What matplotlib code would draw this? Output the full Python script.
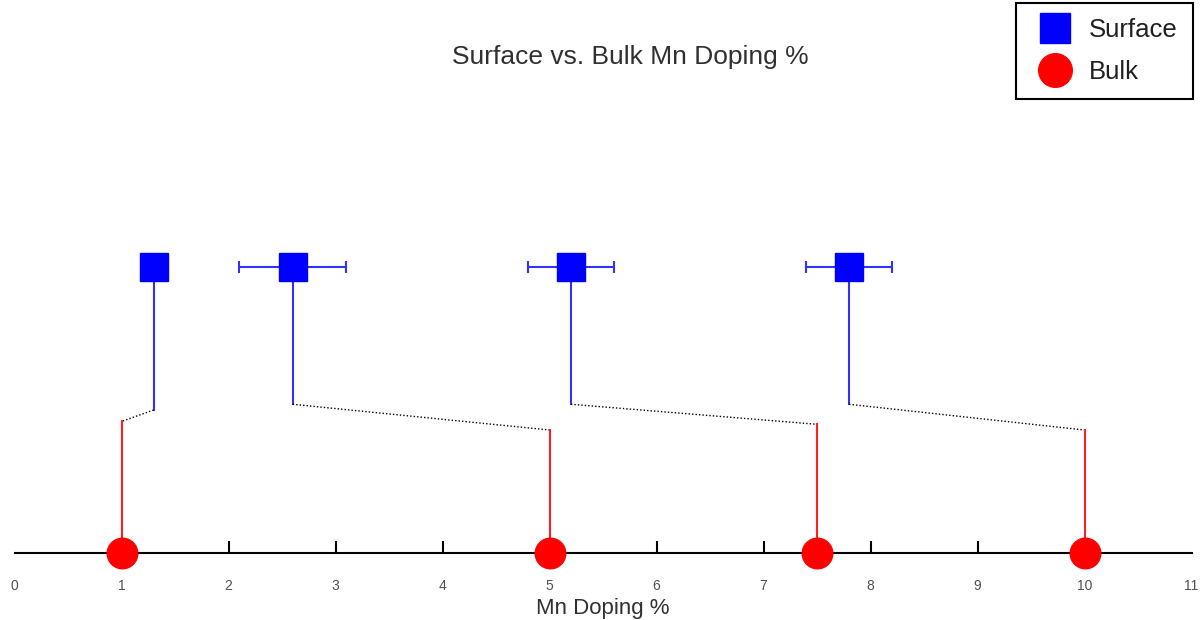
import matplotlib.pyplot as plt
import numpy as np

plt.rcParams['font.family'] = ['Liberation Sans', 'DejaVu Sans']

# Mn doping (%) measured at the surface, with uncertainty
surface_x = [1.3, 2.6, 5.2, 7.8]
surface_err = [0.0, 0.5, 0.4, 0.4]
# nominal bulk doping (%)
bulk_x = [1.0, 5.0, 7.5, 10.0]

# heights of the connector between each surface/bulk pair
surface_level = 1.0
stem_bottom = [0.50, 0.52, 0.52, 0.52]
bulk_top = [0.46, 0.43, 0.45, 0.43]

tick_vals = np.arange(0, 12)

fig = plt.figure(figsize=(12.01, 6.2), dpi=100)
ax = fig.add_axes([14.5 / 1201, 67 / 620, 1177 / 1201, 429 / 620])
ax.set_xlim(0, 11)
ax.set_ylim(0, 1.5)

blue = '#3030ff'
red = '#ff2020'

for sx, sb, bx, bt in zip(surface_x, stem_bottom, bulk_x, bulk_top):
    ax.plot([sx, sx], [surface_level, sb], color=blue, lw=1.5, zorder=2)
    ax.plot([sx, bx], [sb, bt], color='black', lw=1.0, ls=(0, (1, 1.5)), zorder=2)
    ax.plot([bx, bx], [bt, 0], color=red, lw=1.5, zorder=2)

ax.errorbar(surface_x, [surface_level] * len(surface_x), xerr=surface_err,
            fmt='none', ecolor=blue, elinewidth=1.5, capsize=4, capthick=1.5, zorder=3)
ax.plot(surface_x, [surface_level] * len(surface_x), 's', color='blue', ms=20,
        zorder=4, label='Surface', clip_on=False)
ax.plot(bulk_x, [0] * len(bulk_x), 'o', color='red', ms=22,
        zorder=5, label='Bulk', clip_on=False)

for side in ['left', 'right', 'top']:
    ax.spines[side].set_visible(False)
ax.spines['bottom'].set_linewidth(1.5)
ax.spines['bottom'].set_zorder(1)
ax.set_yticks([])
ax.set_xticks(tick_vals)
ax.set_xticklabels([str(v) for v in tick_vals], color='#505050', fontsize=10)
ax.tick_params(axis='x', direction='in', length=9, width=1.5, pad=19)
for t in ax.xaxis.get_major_ticks():
    if t.get_loc() in (0, 11):
        t.tick1line.set_visible(False)
ax.set_xlabel('Mn Doping %', fontsize=16, color='#303030', labelpad=3)

fig.text(630 / 1201, 1 - 57 / 620, 'Surface vs. Bulk Mn Doping %',
         ha='center', va='center', fontsize=19, color='#303030')

leg = fig.legend(loc='upper right', bbox_to_anchor=(1193 / 1201, 1 - 3 / 620),
                 borderaxespad=0, fontsize=18.5, fancybox=False, edgecolor='black',
                 framealpha=1, borderpad=0.6, labelspacing=0.68, handlelength=1.85,
                 handletextpad=0.4, markerscale=1.1)
leg.get_frame().set_linewidth(1.5)
for txt in leg.get_texts():
    txt.set_color('#202020')

fig.savefig('out.png', dpi=100)
